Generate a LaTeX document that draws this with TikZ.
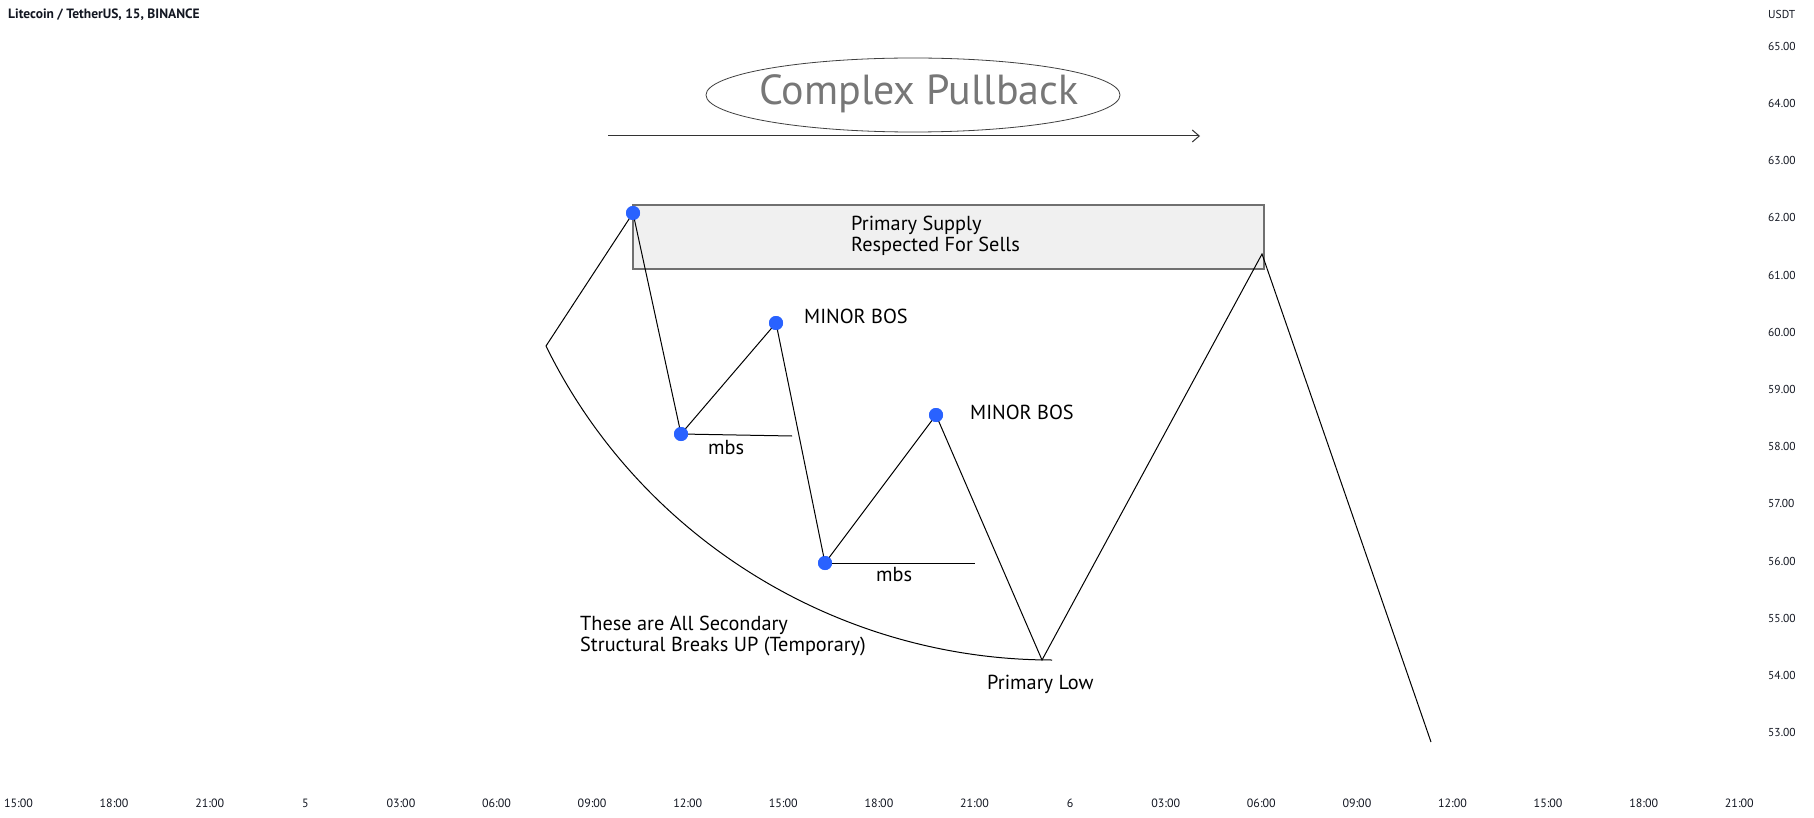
\documentclass[tikz,border=0pt]{standalone}
\usepackage{fontspec}
\setmainfont{PT Sans}
\usetikzlibrary{arrows.meta,shapes.geometric}
\definecolor{tvtext}{HTML}{131722}
\definecolor{dotblue}{HTML}{2962FF}
\definecolor{boxfill}{HTML}{F0F0F0}
\definecolor{boxline}{HTML}{707070}
\definecolor{titlegray}{HTML}{777777}
\tikzset{
  pt/.style={circle,fill=dotblue,inner sep=0pt,minimum size=14pt},
  wave/.style={draw=black,line width=1pt,line join=miter},
  lbl/.style={anchor=west,inner sep=0pt,text=black,font=\fontsize{20.3}{21}\selectfont,align=left},
  axl/.style={anchor=west,inner sep=0pt,text=tvtext,font=\fontsize{11.5}{13}\selectfont},
  tml/.style={anchor=center,inner sep=0pt,text=tvtext,font=\fontsize{12}{14}\selectfont},
}
\begin{document}
\begin{tikzpicture}[x=1pt,y=-1pt]
\useasboundingbox[fill=white] (0,0) rectangle (1814,818);
% header
\node[anchor=west,inner sep=0pt,text=tvtext,font=\fontsize{13.5}{15}\selectfont\bfseries] (hdr) at (8,15) {Litecoin / TetherUS, 15, BINANCE};
% title ellipse
\node[ellipse,draw=black!75,line width=0.8pt,minimum width=414pt,minimum height=74pt,inner sep=0pt] (ttl) at (913,95) {};
\node[inner sep=0pt,text=titlegray,font=\fontsize{42}{46}\selectfont] (ttltxt) at (919,94) {Complex Pullback};
% arrow
\coordinate (a1) at (608,136);
\coordinate (a2) at (1200,136);
\draw[line width=1pt,black!80,-{Straight Barb[length=7pt,width=12pt]}] (a1) -- (a2);
% supply zone
\node[draw=boxline,fill=boxfill,line width=2pt,anchor=north west,minimum width=631pt,minimum height=64pt,inner sep=0pt] (zone) at (632,204) {};
\node[lbl,anchor=north west] (ztxt) at (851,216) {Primary Supply\\Respected For Sells};
% vertices
\coordinate (p0) at (546,346);
\coordinate (p6) at (1042,660);
\coordinate (p7) at (1262,254);
\coordinate (p8) at (1431,742);
\coordinate (arcend) at (1052,660);
% arc
\draw[wave] (p0) .. controls (640,538) and (838,660) .. (arcend);
% mbs line ends
\coordinate (m1) at (792,436);
\coordinate (m2) at (975,563);
% dots
\node[pt] (d1) at (633,213) {};
\node[pt] (d2) at (681,434) {};
\node[pt] (d3) at (776,323) {};
\node[pt] (d4) at (825,563) {};
\node[pt] (d5) at (936,415) {};
\draw[wave] (d2.center) -- (m1);
\draw[wave] (d4.center) -- (m2);
\draw[wave] (p0) -- (d1.center) -- (d2.center) -- (d3.center) -- (d4.center) -- (d5.center) -- (p6) -- (p7) -- (p8);
\foreach \d in {d1,d2,d3,d4,d5}{ \node[pt] at (\d) {}; }
% labels
\node[lbl] (bos1) at (804,316) {MINOR BOS};
\node[lbl] (bos2) at (970,412) {MINOR BOS};
\node[lbl] (mbs1) at (708,448) {mbs};
\node[lbl] (mbs2) at (876,575) {mbs};
\node[lbl] (low) at (987,684) {Primary Low};
\node[lbl,anchor=north west] (sec) at (580,616) {These are All Secondary\\Structural Breaks UP (Temporary)};
% price axis
\node[axl] (usdt) at (1768,14) {USDT};
\foreach \v [count=\i from 0] in {65.00,64.00,63.00,62.00,61.00,60.00,59.00,58.00,57.00,56.00,55.00,54.00,53.00}{
  \node[axl] (py\i) at (1768,{46.3+57.2*\i}) {\v};
}
% time axis
\foreach \t [count=\i from 0] in {15:00,18:00,21:00,5,03:00,06:00,09:00,12:00,15:00,18:00,21:00,6,03:00,06:00,09:00,12:00,15:00,18:00,21:00}{
  \node[tml] (tx\i) at ({18.5+95.6*\i},803) {\t};
}
\end{tikzpicture}
\end{document}
